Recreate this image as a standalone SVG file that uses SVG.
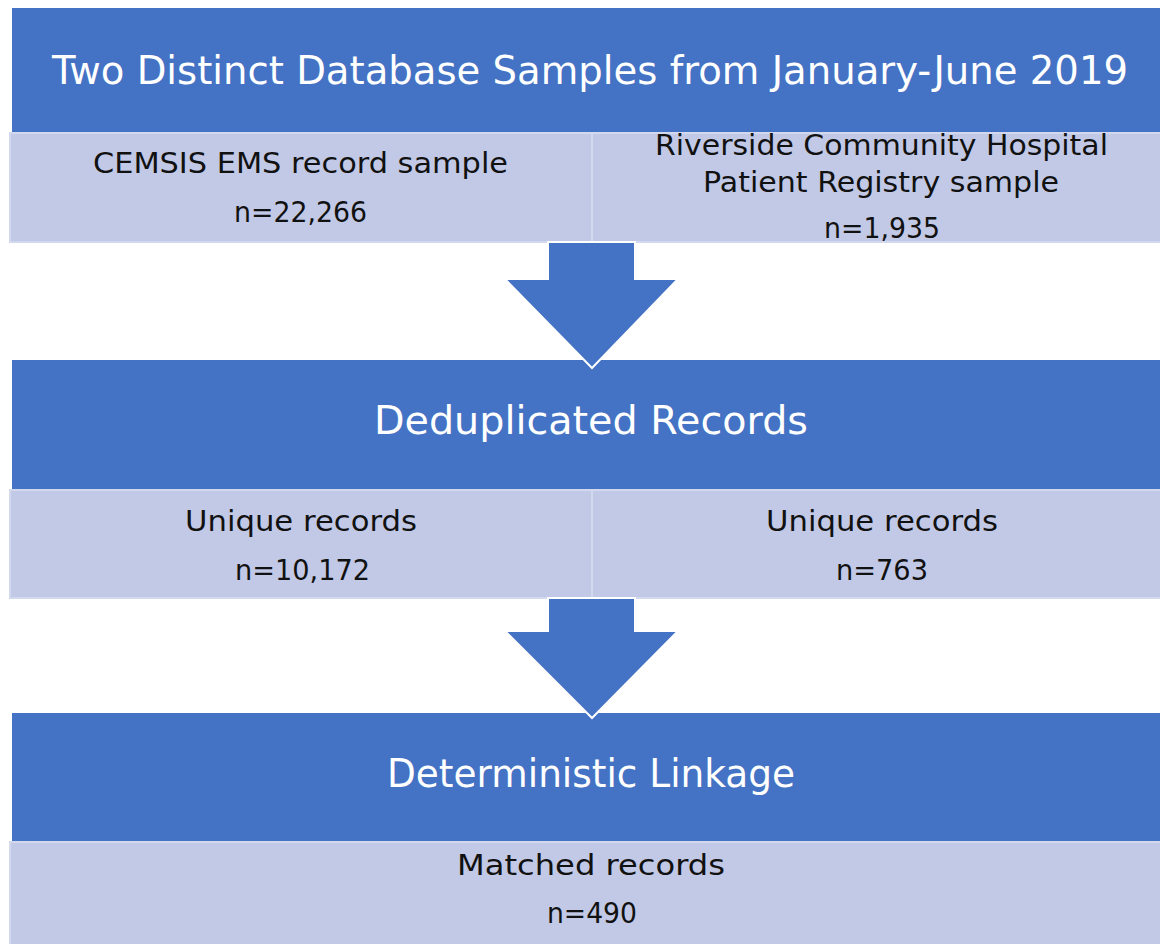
<svg xmlns="http://www.w3.org/2000/svg" width="1160" height="944" viewBox="0 0 1160 944">
<style>
.hdr{fill:#4472C4;}
.sub{fill:#C1C9E6;stroke:#D2D8EE;stroke-width:2;}
.arrow{fill:#4472C4;stroke:#FFFFFF;stroke-width:2;stroke-linejoin:miter;}
.sep{stroke:#D3D9EE;stroke-width:2;}
text{font-family:"DejaVu Sans","Liberation Sans",sans-serif;}
.ht{fill:#FFFFFF;font-size:39px;}
.st{fill:#111111;font-size:29px;}
</style>
<rect width="1160" height="944" fill="#FFFFFF"/>
<g id="stage1">
  <rect class="hdr" x="12" y="8" width="1150" height="124"/>
  <text class="ht" x="52" y="84" textLength="1076" lengthAdjust="spacingAndGlyphs">Two Distinct Database Samples from January-June 2019</text>
</g>
<g id="stage1-left">
  <rect class="sub" x="10" y="133" width="582" height="109"/>
  <text class="st" x="93" y="173" textLength="415" lengthAdjust="spacingAndGlyphs">CEMSIS EMS record sample</text>
  <text class="st" x="234" y="222" textLength="133" lengthAdjust="spacingAndGlyphs">n=22,266</text>
</g>
<g id="stage1-right">
  <rect class="sub" x="592" y="133" width="570" height="109"/>
  <text class="st" x="655" y="155" textLength="453" lengthAdjust="spacingAndGlyphs">Riverside Community Hospital</text>
  <text class="st" x="703" y="192" textLength="356" lengthAdjust="spacingAndGlyphs">Patient Registry sample</text>
  <text class="st" x="824" y="238" textLength="116" lengthAdjust="spacingAndGlyphs">n=1,935</text>
</g>
<g id="stage2">
  <rect class="hdr" x="12" y="360" width="1150" height="129"/>
  <text class="ht" x="374" y="434" textLength="434" lengthAdjust="spacingAndGlyphs">Deduplicated Records</text>
</g>
<g id="stage2-left">
  <rect class="sub" x="10" y="490" width="582" height="108"/>
  <text class="st" x="185" y="531" textLength="232" lengthAdjust="spacingAndGlyphs">Unique records</text>
  <text class="st" x="235" y="580" textLength="135" lengthAdjust="spacingAndGlyphs">n=10,172</text>
</g>
<g id="stage2-right">
  <rect class="sub" x="592" y="490" width="570" height="108"/>
  <text class="st" x="766" y="531" textLength="232" lengthAdjust="spacingAndGlyphs">Unique records</text>
  <text class="st" x="836" y="580" textLength="92" lengthAdjust="spacingAndGlyphs">n=763</text>
</g>
<g id="stage3">
  <rect class="hdr" x="12" y="713" width="1150" height="128"/>
  <text class="ht" x="387" y="787" textLength="408" lengthAdjust="spacingAndGlyphs">Deterministic Linkage</text>
</g>
<g id="stage3-sub">
  <rect class="sub" x="10" y="842" width="1152" height="104"/>
  <text class="st" x="457" y="875" textLength="268" lengthAdjust="spacingAndGlyphs">Matched records</text>
  <text class="st" x="547" y="923" textLength="90" lengthAdjust="spacingAndGlyphs">n=490</text>
</g>
<g id="connectors">
  <polygon class="arrow" points="548,242 635,242 635,279 678,279 592,368 505,279 548,279"/>
  <polygon class="arrow" points="548,598 635,598 635,631 678,631 592,718 505,631 548,631"/>
</g>
</svg>
